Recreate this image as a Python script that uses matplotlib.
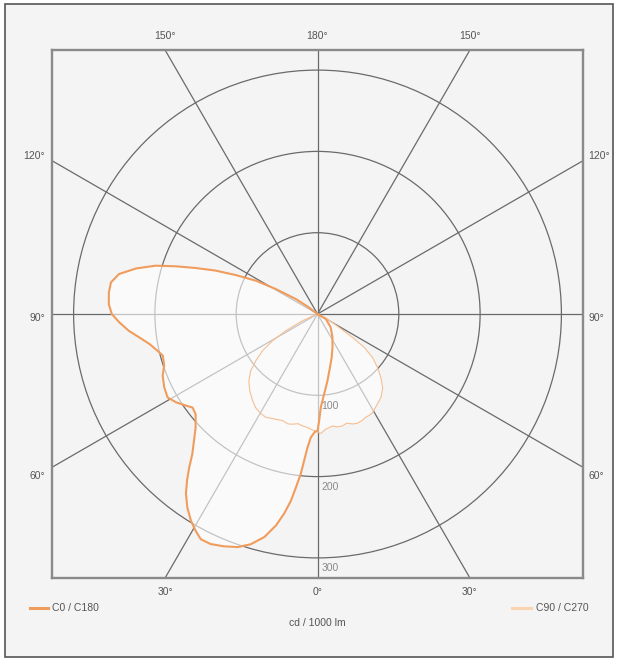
import numpy as np
import matplotlib
matplotlib.use("Agg")
import matplotlib.pyplot as plt
from matplotlib.path import Path
from matplotlib.patches import PathPatch, Rectangle, Circle
from matplotlib.lines import Line2D

# ---------------- data (cd / 1000 lm) ----------------
# signed gamma in degrees: 0 = nadir, negative = left half (C180 / C270), positive = right half (C0 / C90)
c0_gamma = [-135, -127, -124.7, -120.9, -118.4, -115.5, -113.1, -110.7, -108.6, -106.6,
            -104.1, -101.4, -98.7, -95.9, -92.7, -90, -87.6, -84.9, -82.5, -79.9,
            -77.1, -74.9, -71.4, -68.3, -64.4, -60.9, -58.0, -55.1, -53.2, -50.6,
            -47.0, -44.2, -41.8, -39.9, -38.1, -36.2, -33.9, -31.5, -29.3, -27.4,
            -24.9, -21.9, -18.9, -16.2, -13.4, -11.1, -9.5, -8.1, -7.1, -6.0,
            -5.2, -4.3, -3.1, -1.3, 0, 0.9, 2.0, 4.7, 8.5, 13.3,
            18.2, 24.2, 32.7, 44.8, 58.9, 70]
c0_cd = [0, 15, 32, 60, 86, 111, 136, 160, 184, 208,
         230, 249, 257, 258, 257, 253, 244, 233, 221, 210,
         202, 197, 199, 205, 209, 211, 205, 197, 192, 194,
         205, 218, 231, 246, 260, 274, 287, 298, 306, 312,
         312, 308, 303, 295, 282, 265, 249, 232, 215, 198,
         181, 165, 152, 145, 144, 131, 115, 99, 83, 67,
         56, 45, 34, 23, 12, 0]

c90_gamma = [-70, -65.9, -62.2, -59.3, -56.3, -52.9, -49.6, -45.7, -41.4, -36.9,
             -33.5, -29.6, -26.6, -23.2, -21.0, -18.2, -15.0, -12.8, -10.0, -7.6,
             -5.0, -3.3, 0, 1.6, 4.1, 7.6, 10.0, 12.6, 15.0, 17.7,
             20.0, 22.9, 25.0, 26.9, 29.0, 32.0, 37.2, 41.5, 45.0, 48.3,
             51.7, 54.4, 56.2, 58.2, 63.4, 70]
c90_cd = [0, 20, 44, 64, 81, 95, 108, 118, 126, 133,
          138, 141, 142, 140, 139, 138, 140, 139, 137, 139,
          140, 142, 145, 147, 142, 139, 141, 141, 139, 142,
          143, 142, 140, 140, 139, 135, 129, 121, 110, 99,
          86, 71, 52, 31, 14, 0]

ring_values = [100, 200, 300]
spoke_angles = [0, 30, 60, 90, 120, 150]
angle_labels = [-150, 180, 150, -120, -90, -60, 120, 90, 60, -30, 0, 30]

assert len(c0_gamma) == len(c0_cd) and len(c90_gamma) == len(c90_cd)

# ---------------- style ----------------
W, H = 618, 660
FONT = ["Liberation Sans", "DejaVu Sans"]
TXT = "#555555"
C_MAIN = "#f09c5c"
C_SEC = "#f6bf92"
GRID = "#6a6a6a"
FS = 7.5

fig = plt.figure(figsize=(W / 100, H / 100), dpi=100)
fig.patch.set_facecolor("white")
frame = Rectangle((5 / W, 3 / H), 608 / W, 653 / H, transform=fig.transFigure,
                  facecolor="#f4f4f4", edgecolor="#555555", lw=1.2, zorder=-10)
fig.add_artist(frame)

# plot box in pixels
bx0, bx1, by_top, by_bot = 52, 583, 50, 578
ax = fig.add_axes([bx0 / W, (H - by_bot) / H, (bx1 - bx0) / W, (by_bot - by_top) / H])
ax.set_zorder(1)
ax.set_facecolor("#f4f4f4")
px_per_cd = 0.813
xl = (bx1 - bx0) / 2 / px_per_cd
yl = (by_bot - by_top) / 2 / px_per_cd
ax.set_xlim(-xl, xl)
ax.set_ylim(-yl, yl)
ax.set_xticks([])
ax.set_yticks([])
for s in ax.spines.values():
    s.set_color("#8a8a8a")
    s.set_linewidth(1.7)


def to_xy(g, r):
    g = np.radians(np.asarray(g, dtype=float))
    r = np.asarray(r, dtype=float)
    return r * np.sin(g), -r * np.cos(g)


# grid: spokes and rings
L = 2000
for a in spoke_angles:
    x, y = to_xy([a, a + 180], [L, L])
    ax.plot(x, y, color=GRID, lw=0.9, zorder=2)
for rv in ring_values:
    ax.add_patch(Circle((0, 0), rv, fill=False, edgecolor=GRID, lw=0.9, zorder=2))

# fills (union of both planes)
x1, y1 = to_xy(c0_gamma, c0_cd)
x2, y2 = to_xy(c90_gamma, c90_cd)
path = Path.make_compound_path(Path(np.column_stack([x1, y1])), Path(np.column_stack([x2, y2])))
ax.add_patch(PathPatch(path, facecolor="white", edgecolor="none", alpha=0.6, zorder=3))

# curves
ax.plot(x2, y2, color=C_SEC, lw=0.8, zorder=4)
ax.plot(x1, y1, color=C_MAIN, lw=1.5, zorder=5)

# ring labels
for rv in ring_values:
    ax.annotate(str(rv), (0, -rv), xytext=(3, -7.5), textcoords="offset points",
                ha="left", va="center", fontsize=FS, color="#8a8a8a", family=FONT, zorder=6)

# angle labels at box edges
for g in angle_labels:
    dx, dy = np.sin(np.radians(g)), -np.cos(np.radians(g))
    t = min(xl / abs(dx) if abs(dx) > 1e-9 else np.inf, yl / abs(dy) if abs(dy) > 1e-9 else np.inf)
    px, py = t * dx, t * dy
    if abs(abs(g) - 90) > 40:
        off = (0, 10 if py > 0 else -10)
        ha = "center"
    else:
        yo = {120: 3.5, 90: -3, 60: -6}[abs(int(g))]
        if px < 0:
            off, ha = (-5, yo), "right"
        else:
            off, ha = (4, yo), "left"
    ax.annotate(f"{abs(int(g))}°", (px, py), xytext=off, textcoords="offset points",
                ha=ha, va="center", fontsize=FS, color=TXT, family=FONT, annotation_clip=False)

# legend and unit
fig.add_artist(Line2D([30 / W, 48 / W], [1 - 608 / H] * 2, color=C_MAIN, lw=2.2, transform=fig.transFigure))
fig.text(52 / W, 1 - 608 / H, "C0 / C180", ha="left", va="center", fontsize=FS, color=TXT, family=FONT)
fig.add_artist(Line2D([512 / W, 531 / W], [1 - 608 / H] * 2, color="#fad3b3", lw=2.2, transform=fig.transFigure))
fig.text(536 / W, 1 - 608 / H, "C90 / C270", ha="left", va="center", fontsize=FS, color=TXT, family=FONT)
fig.text(317 / W, 1 - 623 / H, "cd / 1000 lm", ha="center", va="center", fontsize=FS, color=TXT, family=FONT)

fig.savefig("out.png", dpi=100, facecolor=fig.get_facecolor())
